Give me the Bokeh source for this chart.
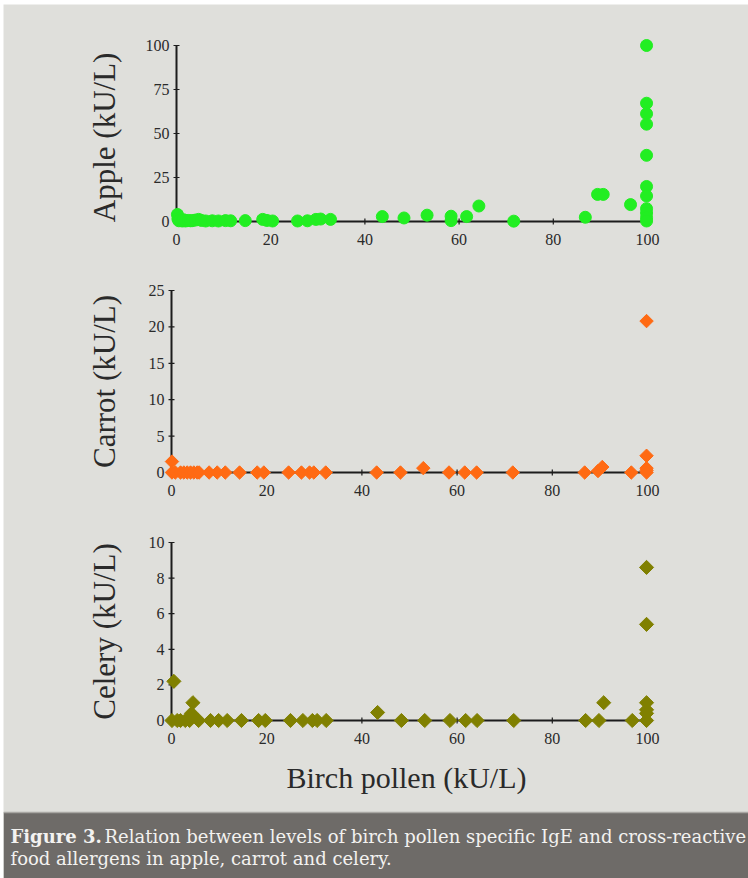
from math import pi
from bokeh.plotting import figure
from bokeh.models import Range1d
from bokeh.core.properties import value
from bokeh.embed import file_html
from bokeh.resources import INLINE

# ---------------- data ----------------
X_TICKS = [0, 20, 40, 60, 80, 100]
APPLE_TICKS = [0, 25, 50, 75, 100]
CARROT_TICKS = [0, 5, 10, 15, 20, 25]
CELERY_TICKS = [0, 2, 4, 6, 8, 10]

apple_x = [0.2, 0.3, 0.5, 0.8, 1.2, 1.5, 1.9, 2.5, 3.0, 3.4,
           4.0, 4.7, 5.3, 6.2, 7.6, 8.9, 10.4, 11.5, 14.6, 18.3,
           19.2, 20.4, 25.7, 27.8, 29.6, 30.6, 32.7, 43.7, 48.3, 53.2,
           58.3, 58.3, 61.6, 64.2, 71.6, 86.8, 89.4, 90.6, 96.4,
           99.8, 99.8, 99.8, 99.8, 99.8, 99.8, 99.8, 99.8, 99.8, 99.8, 99.8]
apple_y = [4.0, 1.5, 0.4, 0.8, 0.3, 1.0, 0.3, 0.6, 0.4, 0.5,
           0.8, 1.2, 0.6, 0.3, 0.4, 0.3, 0.5, 0.4, 0.5, 1.2,
           0.6, 0.3, 0.3, 0.4, 1.2, 1.4, 1.2, 2.8, 2.0, 3.6,
           3.0, 0.5, 2.8, 8.8, 0.2, 2.4, 15.4, 15.4, 9.6,
           100, 67.2, 61.2, 55.3, 37.6, 19.9, 14.5, 7.3, 4.8, 2.2, 0.3]

carrot_x = [0.1, 0.1, 0.8, 1.9, 2.6, 3.3, 4.0, 4.7, 5.4, 5.8,
            7.9, 9.6, 11.3, 14.3, 18.0, 19.4, 24.6, 27.3, 29.0, 29.9,
            32.4, 43.1, 48.1, 52.9, 58.3, 61.6, 64.1, 71.7, 86.8, 89.6,
            90.5, 96.6, 99.8, 99.8, 99.8, 99.8, 99.8]
carrot_y = [1.5, 0, 0, 0, 0, 0, 0, 0, 0, 0,
            0, 0, 0, 0, 0, 0, 0, 0, 0, 0,
            0, 0, 0, 0.6, 0, 0, 0, 0, 0, 0.2,
            0.75, 0, 20.8, 2.3, 0.6, 0.3, 0]

celery_x = [0.5, 0.1, 1.2, 1.9, 2.9, 3.8, 4.2, 4.5, 5.7, 8.2,
            9.9, 11.7, 14.7, 18.3, 19.7, 25.0, 27.6, 29.6, 30.6, 32.5,
            43.3, 48.3, 53.2, 58.5, 61.8, 64.2, 71.9, 87.0, 89.8, 90.8,
            96.8, 99.8, 99.8, 99.8, 99.8, 99.8, 99.8]
celery_y = [2.2, 0, 0, 0, 0, 0, 0.4, 1.0, 0, 0,
            0, 0, 0, 0, 0, 0, 0, 0, 0, 0,
            0.45, 0, 0, 0, 0, 0, 0, 0, 0, 1.0,
            0, 8.6, 5.4, 1.0, 0.6, 0.4, 0]

X_TITLE = "Birch pollen (kU/L)"
CAPTION_BOLD = "Figure 3."
CAPTION_1 = "Relation between levels of birch pollen specific IgE and cross-reactive"
CAPTION_2 = "food allergens in apple, carrot and celery."

# ---------------- style / layout (page pixels) ----------------
W, H = 748, 878
LEFT_GAP, TOP_GAP = 3, 4
BG = "#dfdfdb"
CAP_BG = "#6e6b68"
AXIS = "#1c1c1c"
TXT = "#2a2a2a"
SERIF = "Liberation Serif"

p = figure(width=W, height=H, output_backend="svg", toolbar_location=None,
           x_range=Range1d(LEFT_GAP, W), y_range=Range1d(H, TOP_GAP),
           min_border_left=LEFT_GAP, min_border_top=TOP_GAP,
           min_border_right=0, min_border_bottom=0,
           x_axis_location=None, y_axis_location=None)
p.background_fill_color = BG
p.border_fill_color = "white"
p.outline_line_color = None
p.grid.visible = False


def panel(name, xs, ys, yticks, title, color, marker, msize, angle,
          ax_left, ax_right, ax_top, ax_bottom, title_x):
    pxx = (ax_right - ax_left) / (X_TICKS[-1] - X_TICKS[0])
    pxy = (ax_bottom - ax_top) / (yticks[-1] - yticks[0])
    p.extra_x_ranges[name] = Range1d((LEFT_GAP - ax_left) / pxx, (W - ax_left) / pxx)
    p.extra_y_ranges[name] = Range1d((ax_bottom - H) / pxy, (ax_bottom - TOP_GAP) / pxy)
    kw = dict(x_range_name=name, y_range_name=name)
    y0, x0 = yticks[0], X_TICKS[0]
    # axis lines
    p.line(x=[x0, X_TICKS[-1]], y=[y0, y0], line_color=AXIS, line_width=2, **kw)
    p.line(x=[x0, x0], y=[y0, yticks[-1]], line_color=AXIS, line_width=2, **kw)
    # small tick marks
    p.scatter(x=X_TICKS[1:], y=[y0] * (len(X_TICKS) - 1), marker="dash", angle=pi / 2,
              size=6, line_color=AXIS, line_width=1.2, **kw)
    p.scatter(x=[x0] * (len(yticks) - 1), y=yticks[1:], marker="dash",
              size=6, line_color=AXIS, line_width=1.2, **kw)
    # tick labels
    p.text(x=X_TICKS, y=[y0] * len(X_TICKS), text=[str(t) for t in X_TICKS],
           y_offset=18, text_align="center", text_baseline="middle",
           text_font=value(SERIF), text_font_size="16px", text_color=TXT, **kw)
    p.text(x=[x0] * len(yticks), y=yticks, text=[str(t) for t in yticks],
           x_offset=-7, text_align="right", text_baseline="middle",
           text_font=value(SERIF), text_font_size="16px", text_color=TXT, **kw)
    # data
    p.scatter(x=xs, y=ys, marker=marker, size=msize, angle=angle,
              fill_color=color, line_color=color, **kw)
    # axis title (rotated)
    p.text(x=[title_x], y=[(ax_top + ax_bottom) / 2], text=[title], angle=pi / 2,
           text_align="center", text_baseline="middle",
           text_font=value(SERIF), text_font_size="31px", text_color=TXT)


panel("apple", apple_x, apple_y, APPLE_TICKS, "Apple  (kU/L)", "#22ee22", "circle", 12, 0,
      176, 647, 45, 221, 104)
panel("carrot", carrot_x, carrot_y, CARROT_TICKS, "Carrot (kU/L)", "#ff6a13", "square", 9.5, pi / 4,
      171, 647, 290, 472, 104)
panel("celery", celery_x, celery_y, CELERY_TICKS, "Celery (kU/L)", "#808000", "square", 10, pi / 4,
      171, 647, 542, 720, 104)

# x title
p.text(x=[406], y=[777], text=[X_TITLE], text_align="center", text_baseline="middle",
       text_font=value(SERIF), text_font_size="30px", text_color=TXT)

# caption band
p.quad(left=[LEFT_GAP], right=[W], top=[812], bottom=[H], fill_color=CAP_BG, line_color=None)
p.line(x=[LEFT_GAP, W], y=[812, 812], line_color="#a9a7a3", line_width=1.5)
CAP_FONT = "DejaVu Serif"
cap_kw = dict(text_baseline="middle", text_align="left", text_font=value(CAP_FONT),
              text_font_size="18px", text_color="#f3f2f0")
p.text(x=[10], y=[836], text=[CAPTION_BOLD], text_font_style="bold", **cap_kw)
p.text(x=[104], y=[836], text=[CAPTION_1], **cap_kw)
p.text(x=[10], y=[858], text=[CAPTION_2], **cap_kw)

open("out.html", "w").write(file_html(p, INLINE))
